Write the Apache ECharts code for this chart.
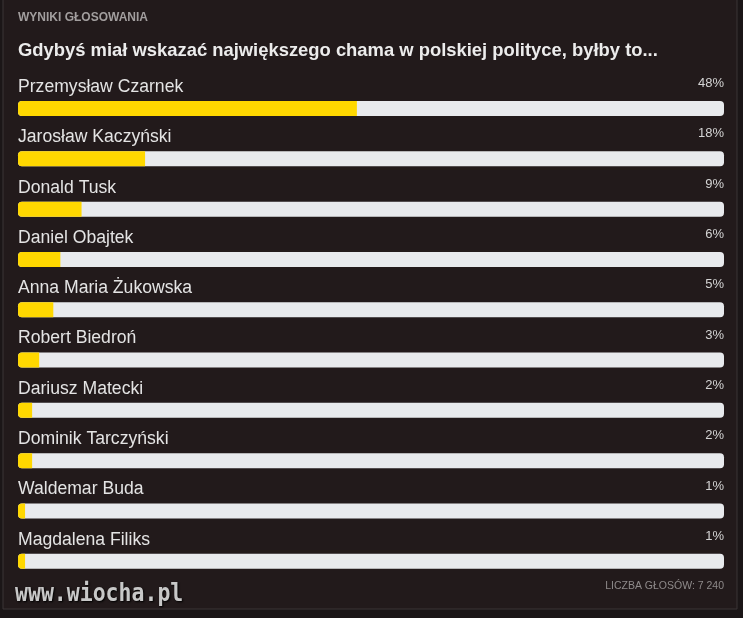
<!DOCTYPE html>
<html>
<head>
<meta charset="utf-8">
<script src="https://cdn.jsdelivr.net/npm/echarts@6/dist/echarts.min.js"></script>
<style>
html,body{margin:0;padding:0;background:#1b1617;}
#chart{width:743px;height:618px;}
</style>
</head>
<body>
<div id="chart"></div>
<script>
const header = 'WYNIKI GŁOSOWANIA';
const question = 'Gdybyś miał wskazać największego chama w polskiej polityce, byłby to...';
const names = ['Przemysław Czarnek','Jarosław Kaczyński','Donald Tusk','Daniel Obajtek','Anna Maria Żukowska','Robert Biedroń','Dariusz Matecki','Dominik Tarczyński','Waldemar Buda','Magdalena Filiks'];
const percents = [48, 18, 9, 6, 5, 3, 2, 2, 1, 1];
const scaleMax = 100;
const totalVotes = 'LICZBA GŁOSÓW: 7 240';
const watermark = 'www.wiocha.pl';

const chart = echarts.init(document.getElementById('chart'));
chart.setOption({
  backgroundColor: '#1b1617',
  animation: false,
  grid: {left: 18, right: 19, top: 83.4, bottom: 31.6},
  xAxis: {type: 'value', min: 0, max: scaleMax, show: false},
  yAxis: {type: 'category', data: names, inverse: true, show: false},
  graphic: [
    {type: 'rect', z: -10, shape: {x: 3, y: -2, width: 734, height: 611},
     style: {fill: '#221a1b', stroke: '#3b3536', lineWidth: 1}},
    {type: 'text', left: 18, top: 12, style: {text: header, fill: '#a29e9e',
      font: 'bold 12px "Liberation Sans", Arial, sans-serif'}},
    {type: 'text', left: 18, top: 42, style: {text: question, fill: '#ececec',
      font: 'bold 18.4px "Liberation Sans", Arial, sans-serif'}},
    {type: 'text', right: 19, top: 581, style: {text: totalVotes, fill: '#8e8a8a',
      font: '10.5px "Liberation Sans Narrow", "Liberation Sans", Arial, sans-serif'}},
    {type: 'text', x: 15, y: 594, scaleX: 0.86, style: {text: watermark, fill: '#c8c8c8',
      verticalAlign: 'middle', align: 'left',
      font: 'bold 25px "DejaVu Sans Mono", monospace',
      textShadowColor: '#000', textShadowBlur: 2, textShadowOffsetX: 1, textShadowOffsetY: 1}}
  ],
  series: [
    {
      type: 'bar', barWidth: 15, silent: true,
      data: names.map(() => scaleMax),
      itemStyle: {color: '#e8eaed', borderRadius: 4},
      label: {show: true, position: ['100%', -11], align: 'right', verticalAlign: 'bottom',
        formatter: p => percents[p.dataIndex] + '%',
        color: '#d4d4d4', fontSize: 13, fontFamily: '"Liberation Sans", Arial, sans-serif'}
    },
    {
      type: 'bar', barWidth: 15, barGap: '-100%', silent: true,
      data: percents,
      itemStyle: {color: '#ffd800', borderRadius: [4, 0, 0, 4]},
      label: {show: true, position: [0, -5], align: 'left', verticalAlign: 'bottom',
        formatter: p => names[p.dataIndex],
        color: '#e4e4e4', fontSize: 17.6, fontFamily: '"Liberation Sans", Arial, sans-serif'}
    }
  ]
});
</script>
</body>
</html>
